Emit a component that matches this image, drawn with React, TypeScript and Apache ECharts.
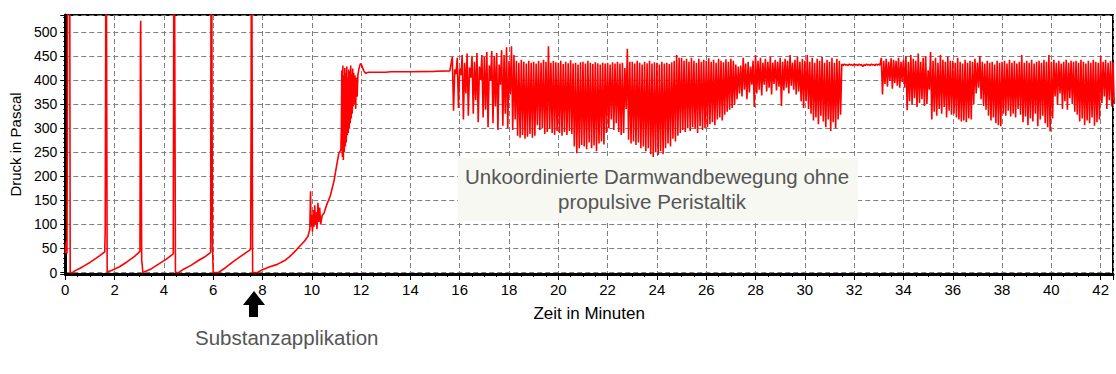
import React, { useEffect, useRef } from 'react';
import * as echarts from 'echarts';

const FONT = '"Liberation Sans", Arial, Helvetica, sans-serif';

// Pressure trace before and shortly after the substance was applied: [minute, pascal]
const earlyTrace: [number, number][] = [
  [0.0, 40], [0.04, 65], [0.07, 40], [0.09, 400], [0.1, 1000], [0.17, 1000], [0.2, 0], [0.3, 0],
  [0.4, 4], [0.6, 9], [0.8, 15], [1.0, 21], [1.2, 28], [1.4, 35], [1.6, 43],
  [1.62, 85], [1.64, 460], [1.65, 1000], [1.7, 0], [1.75, 2],
  [1.9, 5], [2.2, 12], [2.5, 22], [2.8, 33], [3.03, 44],
  [3.05, 485], [3.06, 523], [3.1, 27], [3.15, 0], [3.2, 1],
  [3.5, 8], [3.8, 18], [4.1, 28], [4.38, 39],
  [4.4, 508], [4.41, 1000], [4.47, 0], [4.6, 0],
  [4.8, 7], [5.1, 15], [5.4, 25], [5.7, 34], [5.9, 42],
  [5.92, 1000], [5.97, 65], [6.0, 0], [6.2, 0],
  [6.5, 10], [6.8, 22], [7.1, 33], [7.35, 42], [7.52, 48],
  [7.54, 320], [7.55, 1000], [7.6, 0], [7.8, 0],
  [8.0, 6], [8.3, 12], [8.6, 17], [8.9, 25], [9.1, 33], [9.3, 43], [9.5, 54], [9.7, 65], [9.85, 76],
  [9.92, 90], [9.95, 169], [9.97, 95], [10.0, 120], [10.03, 85], [10.06, 130], [10.09, 95],
  [10.12, 140], [10.15, 100], [10.18, 125], [10.21, 90], [10.25, 145], [10.28, 105], [10.32, 135],
  [10.36, 100], [10.42, 118], [10.5, 124], [10.6, 140], [10.75, 159], [10.9, 190], [11.0, 220],
  [11.1, 248], [11.18, 255],
  [11.2, 300], [11.22, 420], [11.24, 240], [11.26, 430], [11.28, 234], [11.3, 410], [11.32, 250],
  [11.34, 425], [11.36, 262], [11.38, 415], [11.4, 270], [11.42, 428], [11.44, 285], [11.46, 405],
  [11.48, 290], [11.5, 422], [11.52, 300], [11.54, 418], [11.56, 310], [11.58, 430], [11.6, 320],
  [11.62, 412], [11.64, 330], [11.66, 424], [11.68, 345], [11.7, 415], [11.72, 350], [11.75, 410],
  [11.78, 340], [11.81, 405], [11.84, 365], [11.87, 410], [11.92, 425], [11.97, 434], [12.02, 431],
  [12.1, 420], [12.18, 414], [12.3, 416], [13.0, 416], [13.2, 417], [14.0, 417], [15.0, 418], [15.6, 419],
];

// Uncoordinated wall movement from 15.7 min on, sampled every 0.1 min:
// upper and lower extremes of each oscillation
const burstStart = 15.7;
const burstStep = 0.1;

const burstPeaks = [
  448, 422, 446,                                        // 15.7 - 15.9
  424, 452, 436, 455, 426, 450, 438, 456, 428, 452,     // 16
  448, 458, 430, 460, 450, 456, 432, 462, 452, 468,     // 17
  440, 470, 452, 440, 436, 442, 438, 434, 440, 436,     // 18
  438, 434, 440, 436, 442, 438, 470, 436, 440, 437,     // 19
  436, 440, 433, 438, 435, 441, 434, 436, 432, 437,     // 20
  438, 434, 440, 436, 433, 437, 435, 432, 436, 434,     // 21
  436, 432, 437, 434, 438, 434, 436, 425, 465, 438,     // 22
  438, 434, 440, 436, 432, 438, 435, 440, 434, 437,     // 23
  436, 432, 438, 434, 436, 433, 437, 440, 452, 446,     // 24
  446, 440, 444, 438, 446, 440, 436, 444, 438, 442,     // 25
  440, 445, 438, 442, 436, 444, 440, 437, 443, 438,     // 26
  444, 440, 432, 428, 430, 446, 434, 438, 428, 440,     // 27
  452, 440, 446, 436, 444, 438, 448, 436, 442, 438,     // 28
  446, 438, 444, 440, 452, 436, 442, 448, 438, 444,     // 29
  440, 452, 438, 446, 436, 444, 440, 448, 436, 442,     // 30
  438, 446, 436, 444, 440, 433, 433, 432, 433, 432,     // 31
  433, 432, 433, 432, 432, 433, 432, 433, 432, 433,     // 32
  433, 446, 440, 444, 438, 445, 442, 440, 446, 438,     // 33
  442, 450, 438, 452, 444, 440, 455, 438, 446, 450,     // 34
  420, 458, 440, 446, 436, 452, 442, 438, 448, 440,     // 35
  440, 436, 446, 438, 434, 442, 436, 440, 438, 444,     // 36
  436, 450, 438, 434, 440, 436, 438, 432, 440, 436,     // 37
  438, 440, 434, 442, 436, 440, 434, 438, 452, 436,     // 38
  440, 436, 442, 434, 438, 440, 436, 442, 438, 452,     // 39
  438, 442, 436, 440, 434, 438, 442, 436, 440, 438,     // 40
  440, 436, 442, 438, 434, 440, 436, 442, 438, 436,     // 41
  450, 438, 442, 436, 440, 438,                         // 42.0 - 42.5
];

const burstTroughs = [
  336, 412, 342,                                        // 15.7 - 15.9
  410, 318, 372, 326, 405, 330, 358, 312, 400, 322,     // 16
  338, 302, 398, 310, 345, 296, 390, 305, 330, 300,     // 17
  370, 296, 318, 284, 280, 286, 278, 282, 288, 280,     // 18
  284, 306, 296, 300, 288, 292, 298, 290, 286, 294,     // 19
  290, 284, 292, 286, 294, 288, 262, 248, 258, 265,     // 20
  262, 256, 270, 258, 264, 252, 268, 272, 266, 290,     // 21
  300, 318, 296, 310, 292, 286, 290, 340, 276, 268,     // 22
  272, 265, 270, 258, 262, 252, 258, 246, 240, 250,     // 23
  244, 252, 246, 258, 268, 262, 278, 272, 284, 290,     // 24
  296, 292, 300, 294, 302, 298, 290, 304, 296, 300,     // 25
  302, 308, 312, 306, 318, 322, 316, 328, 334, 338,     // 26
  342, 348, 360, 372, 366, 380, 360, 374, 390, 344,     // 27
  372, 380, 368, 390, 376, 384, 370, 392, 378, 386,     // 28
  346, 378, 384, 372, 388, 380, 370, 376, 356, 342,     // 29
  356, 340, 330, 316, 322, 308, 326, 314, 302, 318,     // 30
  294, 312, 300, 318, 328, 430, 431, 430, 431, 430,     // 31
  431, 430, 431, 428, 430, 431, 430, 431, 430, 431,     // 32
  431, 370, 392, 386, 398, 382, 394, 388, 384, 396,     // 33
  384, 337, 356, 348, 362, 344, 352, 360, 346, 350,     // 34
  380, 318, 334, 326, 340, 330, 344, 322, 336, 328,     // 35
  330, 322, 318, 314, 316, 312, 320, 318, 350, 372,     // 36
  384, 360, 346, 338, 326, 316, 322, 310, 306, 304,     // 37
  330, 326, 336, 324, 330, 322, 340, 328, 312, 324,     // 38
  306, 320, 314, 330, 304, 318, 326, 310, 302, 293,     // 39
  320, 366, 348, 372, 340, 356, 338, 362, 350, 334,     // 40
  328, 314, 320, 306, 316, 310, 322, 305, 312, 318,     // 41
  352, 366, 340, 358, 345, 350,                         // 42.0 - 42.5
];

const timeMax = 42.5;
const pressureMin = -3;
const pressureMax = 535;

function buildTrace(): [number, number][] {
  const pts: [number, number][] = earlyTrace.slice();
  burstPeaks.forEach((peak, i) => {
    const t = burstStart + i * burstStep;
    pts.push([t, peak]);
    pts.push([t + burstStep / 2, burstTroughs[i]]);
  });
  return pts;
}

export default function App() {
  const ref = useRef<HTMLDivElement>(null);

  useEffect(() => {
    if (!ref.current) return;
    const chart = echarts.init(ref.current, undefined, { renderer: 'svg' });

    const gridLine = { show: true, lineStyle: { color: '#808080', type: [5, 3] as number[], width: 1 } };

    chart.setOption({
      animation: false,
      backgroundColor: '#ffffff',
      grid: {
        left: 65, right: 2, top: 15, bottom: 100,
        show: true, borderColor: '#000', borderWidth: 2, backgroundColor: 'transparent',
      },
      xAxis: {
        type: 'value',
        min: 0,
        max: timeMax,
        interval: 2,
        name: 'Zeit in Minuten',
        nameLocation: 'middle',
        nameGap: 31,
        nameTextStyle: { fontFamily: FONT, fontSize: 17, color: '#000' },
        axisLine: { show: true, onZero: false, lineStyle: { color: '#000', width: 3 } },
        axisTick: { show: true, length: 6, lineStyle: { color: '#000', width: 1 } },
        minorTick: { show: true, splitNumber: 4, length: 3, lineStyle: { color: '#000', width: 1 } },
        axisLabel: {
          fontFamily: FONT, fontSize: 15, color: '#000', margin: 8,
          formatter: (v: number) => (v % 2 === 0 ? String(v) : ''),
        },
        splitLine: gridLine,
      },
      yAxis: {
        type: 'value',
        min: pressureMin,
        max: pressureMax,
        splitNumber: 10,
        name: 'Druck in Pascal',
        nameLocation: 'middle',
        nameGap: 40,
        nameRotate: 90,
        nameTextStyle: { fontFamily: FONT, fontSize: 15, color: '#000' },
        axisLine: { show: true, onZero: false, lineStyle: { color: '#000', width: 3 } },
        axisTick: { show: true, length: 5, lineStyle: { color: '#000', width: 1 } },
        minorTick: { show: true, splitNumber: 5, length: 2, lineStyle: { color: '#000', width: 1 } },
        axisLabel: {
          fontFamily: FONT, fontSize: 14, color: '#000', margin: 8,
          formatter: (v: number) => (v >= 0 && v % 50 === 0 ? String(v) : ''),
        },
        splitLine: gridLine,
      },
      series: [
        {
          type: 'line',
          data: buildTrace(),
          symbol: 'none',
          showSymbol: false,
          clip: true,
          lineStyle: { color: '#ff0000', width: 1.6 },
          z: 3,
        },
      ],
      graphic: [
        {
          type: 'rect',
          shape: { x: 458, y: 158, width: 400, height: 63 },
          style: { fill: '#f7f8f1' },
          z: 50,
        },
        {
          type: 'text',
          x: 657, y: 176,
          style: {
            text: 'Unkoordinierte Darmwandbewegung ohne',
            fontFamily: FONT, fontSize: 20.5, fill: '#555555',
            align: 'center', verticalAlign: 'middle',
          },
          z: 51,
        },
        {
          type: 'text',
          x: 652, y: 201,
          style: {
            text: 'propulsive Peristaltik',
            fontFamily: FONT, fontSize: 20.5, fill: '#555555',
            align: 'center', verticalAlign: 'middle',
          },
          z: 51,
        },
        {
          type: 'polygon',
          shape: {
            points: [[254, 291], [265, 305], [258, 305], [258, 317], [249, 317], [249, 305], [243, 305]],
          },
          style: { fill: '#000' },
          z: 51,
        },
        {
          type: 'text',
          x: 195, y: 337,
          style: {
            text: 'Substanzapplikation',
            fontFamily: FONT, fontSize: 20.5, fill: '#555555',
            align: 'left', verticalAlign: 'middle',
          },
          z: 51,
        },
      ],
    });

    return () => chart.dispose();
  }, []);

  return (
    <div
      ref={ref}
      style={{ position: 'fixed', left: 0, top: 0, width: 1116, height: 374, background: '#fff' }}
    />
  );
}
